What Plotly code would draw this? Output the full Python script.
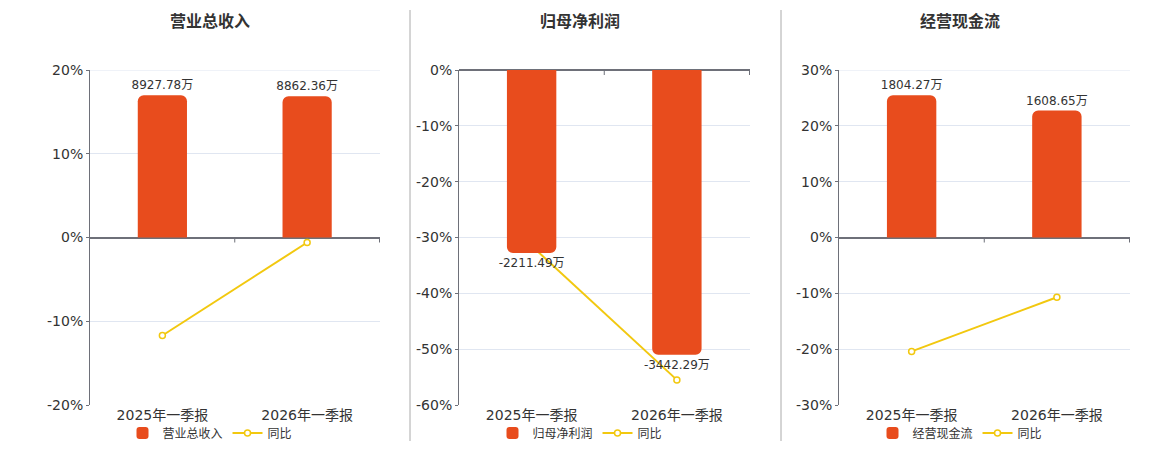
import plotly.graph_objects as go

# Reporting periods shared by all three panels
periods = ["2025年一季报", "2026年一季报"]

# Panel titles
titles = ["营业总收入", "归母净利润", "经营现金流"]

# Absolute values (万元) shown as bars
revenue = [8927.78, 8862.36]
net_profit = [-2211.49, -3442.29]
cash_flow = [1804.27, 1608.65]

# Year-on-year change (%) shown as the line
revenue_yoy = [-11.7, -0.6]
net_profit_yoy = [-31.5, -55.5]
cash_flow_yoy = [-20.4, -10.7]

# Percent axis ranges and ticks for each panel
pct_ranges = [[-20, 20], [-60, 0], [-30, 30]]
pct_ticks = [
    [-20, -10, 0, 10, 20],
    [-60, -50, -40, -30, -20, -10, 0],
    [-30, -20, -10, 0, 10, 20, 30],
]

BAR_COLOR = "#E84C1D"
LINE_COLOR = "#F2C80F"
FONT = "DejaVu Sans, Noto Sans CJK SC"

# the page puts the figure 8px in from the top-left corner of the window
OFF = 8
W, H = 1160 - 2 * OFF, 450 - 2 * OFF


def px_x(p):
    return (p - OFF) / W


def px_y(p):
    return 1 - (p - OFF) / H


# Plot area of each panel in window pixels (left, right)
panel_px = [(90, 380), (459, 750), (839, 1130)]
title_px = [210, 580, 960]
top_px, bottom_px = 70, 405

bars = [revenue, net_profit, cash_flow]
lines = [revenue_yoy, net_profit_yoy, cash_flow_yoy]

fig = go.Figure()
layout = {}
shapes = []
annotations = []

for i in range(3):
    n = i + 1
    xa = "x" if n == 1 else f"x{n}"
    ya_pct = f"y{2 * i + 1}" if i > 0 else "y"
    ya_bar = f"y{2 * i + 2}"
    legend_name = "legend" if n == 1 else f"legend{n}"

    # bar axis scaled so the largest bar reaches 85% of the percent axis extent
    lo, hi = pct_ranges[i]
    biggest = max(abs(v) for v in bars[i])
    if lo < 0 < hi:
        span = biggest / 0.85
        bar_range = [-span * abs(lo) / hi, span]
    elif hi == 0:
        bar_range = [-biggest / 0.85, 0]
    else:
        bar_range = [0, biggest / 0.85]

    fig.add_trace(go.Bar(
        x=periods, y=bars[i], name=titles[i],
        marker=dict(color=BAR_COLOR, line=dict(width=0)),
        width=0.34,
        text=[f"{v:.2f}万" for v in bars[i]],
        textposition="outside", cliponaxis=False, constraintext="none",
        textfont=dict(size=12, color="#333333", family=FONT),
        xaxis=xa, yaxis=ya_bar, legend=legend_name,
    ))
    fig.add_trace(go.Scatter(
        x=periods, y=lines[i], name="同比", mode="lines+markers",
        line=dict(color=LINE_COLOR, width=2),
        marker=dict(symbol="circle", size=6, color="white",
                    line=dict(color=LINE_COLOR, width=1.5)),
        xaxis=xa, yaxis=ya_pct, legend=legend_name,
    ))

    x0, x1 = panel_px[i]
    xkey = "xaxis" if n == 1 else f"xaxis{n}"
    pct_key = "yaxis" if i == 0 else f"yaxis{2 * i + 1}"
    bar_key = f"yaxis{2 * i + 2}"
    pct_ref = "y" if i == 0 else f"y{2 * i + 1}"

    layout[xkey] = dict(
        domain=[px_x(x0), px_x(x1)], anchor=pct_ref, type="category",
        showline=False, showgrid=False, ticks="", automargin=False,
        tickfont=dict(size=14, color="#333333", family=FONT),
    )
    layout[pct_key] = dict(
        domain=[px_y(bottom_px), px_y(top_px)], anchor=xa,
        range=pct_ranges[i],
        tickvals=pct_ticks[i], ticktext=[f"{v}%" for v in pct_ticks[i]],
        showgrid=True, gridcolor="#E0E6F1", gridwidth=1,
        showline=True, linecolor="#6E7079", linewidth=1,
        ticks="outside", ticklen=3, tickcolor="#6E7079",
        zeroline=True, zerolinecolor="#6E7079", zerolinewidth=2,
        automargin=False,
        tickfont=dict(size=14, color="#333333", family=FONT),
    )
    layout[bar_key] = dict(
        overlaying=pct_ref, anchor=xa, range=bar_range,
        visible=False, showgrid=False, zeroline=False, automargin=False,
    )

    # small tick marks on the zero line between categories and at the end
    for pos in (0.5, 1.5):
        shapes.append(dict(
            type="line", xref=xa, yref=pct_ref, x0=pos, x1=pos,
            ysizemode="pixel", yanchor=0, y0=0, y1=-5,
            line=dict(color="#6E7079", width=1),
        ))
    # line at the top of the plot area (top tick)
    shapes.append(dict(
        type="line", xref=f"{xa} domain", yref=pct_ref, x0=0, x1=1,
        y0=pct_ranges[i][1], y1=pct_ranges[i][1],
        line=dict(color="#E0E6F1" if pct_ranges[i][1] != 0 else "#6E7079",
                  width=1 if pct_ranges[i][1] != 0 else 2),
        layer="below",
    ))

    annotations.append(dict(
        text=f"<b>{titles[i]}</b>", x=px_x(title_px[i]), y=px_y(22),
        xref="paper", yref="paper", showarrow=False,
        xanchor="center", yanchor="middle",
        font=dict(size=16, color="#333333", family=FONT),
    ))

    layout[legend_name] = dict(
        orientation="h", x=px_x(title_px[i]), y=px_y(433),
        xanchor="center", yanchor="middle",
        font=dict(size=12, color="#333333", family=FONT),
        bgcolor="rgba(0,0,0,0)", itemwidth=30, tracegroupgap=0,
    )

# vertical separators between panels
for sx in (410, 781):
    shapes.append(dict(
        type="line", xref="paper", yref="paper",
        x0=px_x(sx), x1=px_x(sx), y0=px_y(441), y1=px_y(10),
        line=dict(color="#AAAAAA", width=1),
    ))

fig.update_layout(
    width=W, height=H,
    margin=dict(l=0, r=0, t=0, b=0, autoexpand=False),
    paper_bgcolor="white", plot_bgcolor="white",
    barcornerradius=6,
    shapes=shapes, annotations=annotations,
    font=dict(family=FONT),
    **layout,
)

fig.write_html("out.html")
